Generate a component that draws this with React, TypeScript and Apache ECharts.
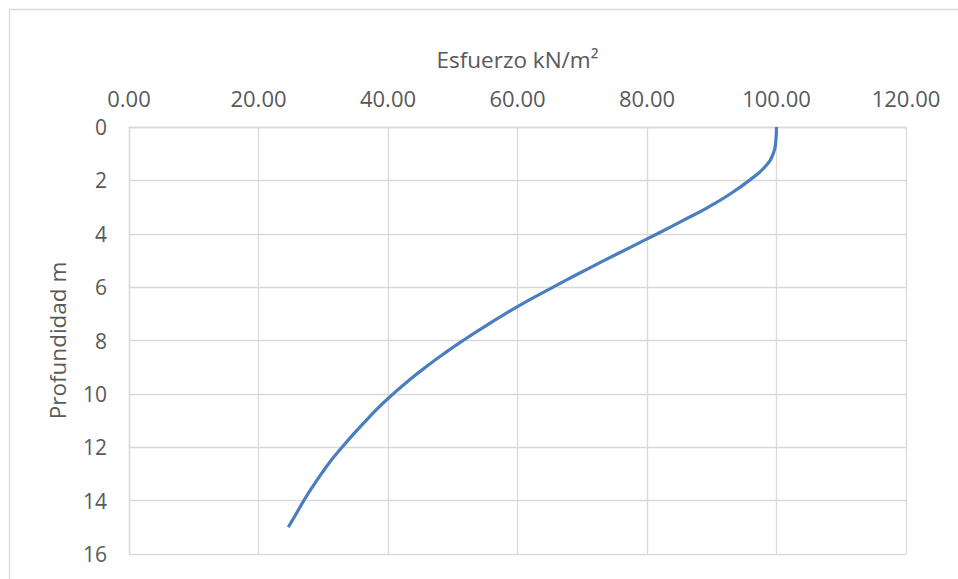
import React, { useEffect, useRef } from "react";
import * as echarts from "echarts";

const depths = [0, 0.5, 1, 1.5, 2, 2.5, 3, 3.5, 4, 4.5, 5, 5.5, 6, 6.5, 7, 7.5, 8, 8.5, 9, 9.5, 10, 10.5, 11, 11.5, 12, 12.5, 13, 13.5, 14, 14.5, 15];
const stresses = [100, 99.9, 99.5, 98.2, 95.8, 92.9, 89.5, 85.6, 81.6, 77.5, 73.4, 69.4, 65.5, 61.7, 58.1, 54.8, 51.6, 48.6, 45.8, 43.2, 40.8, 38.6, 36.6, 34.7, 32.9, 31.2, 29.7, 28.3, 27.0, 25.8, 24.6];

const xTitle = "Esfuerzo kN/m²";
const yTitle = "Profundidad m";

export default function App() {
  const ref = useRef<HTMLDivElement>(null);
  useEffect(() => {
    if (!ref.current) return;
    const chart = echarts.init(ref.current, undefined, { renderer: "svg" });
    const font = "Open Sans";
    const grey = "#595959";
    chart.setOption({
      animation: false,
      backgroundColor: "#ffffff",
      textStyle: { fontFamily: font },
      graphic: [
        {
          type: "rect",
          shape: { x: 9.5, y: 9.5, width: 970, height: 590 },
          style: { fill: "none", stroke: "#d9d9d9", lineWidth: 1.3 },
          silent: true,
        },
      ],
      grid: { left: 129, top: 127, width: 777, height: 427, containLabel: false },
      xAxis: {
        type: "value",
        position: "top",
        min: 0,
        max: 120,
        interval: 20,
        name: xTitle,
        nameLocation: "middle",
        nameGap: 56,
        nameTextStyle: { color: grey, fontSize: 22.5, fontFamily: font },
        axisLine: { show: true, lineStyle: { color: "#d9d9d9", width: 1.3 } },
        axisTick: { show: false },
        axisLabel: {
          color: grey,
          fontSize: 22,
          fontFamily: font,
          margin: 18,
          formatter: (v: number) => v.toFixed(2),
        },
        splitLine: { show: true, lineStyle: { color: "#d9d9d9", width: 1.3 } },
      },
      yAxis: {
        type: "value",
        inverse: true,
        min: 0,
        max: 16,
        interval: 2,
        name: yTitle,
        nameLocation: "middle",
        nameGap: 60,
        nameTextStyle: { color: grey, fontSize: 22.5, fontFamily: font },
        axisLine: { show: true, lineStyle: { color: "#d9d9d9", width: 1.3 } },
        axisTick: { show: false },
        axisLabel: { color: grey, fontSize: 21, fontFamily: font, margin: 22 },
        splitLine: { show: true, lineStyle: { color: "#d9d9d9", width: 1.3 } },
      },
      series: [
        {
          type: "line",
          data: stresses.map((s, i) => [s, depths[i]]),
          smooth: 0.5,
          showSymbol: false,
          symbol: "none",
          lineStyle: { color: "#4a7ebf", width: 3.2 },
        },
      ],
    });
    return () => chart.dispose();
  }, []);
  return (
    <div
      ref={ref}
      style={{ position: "fixed", left: 0, top: 0, width: 958, height: 579 }}
    />
  );
}
